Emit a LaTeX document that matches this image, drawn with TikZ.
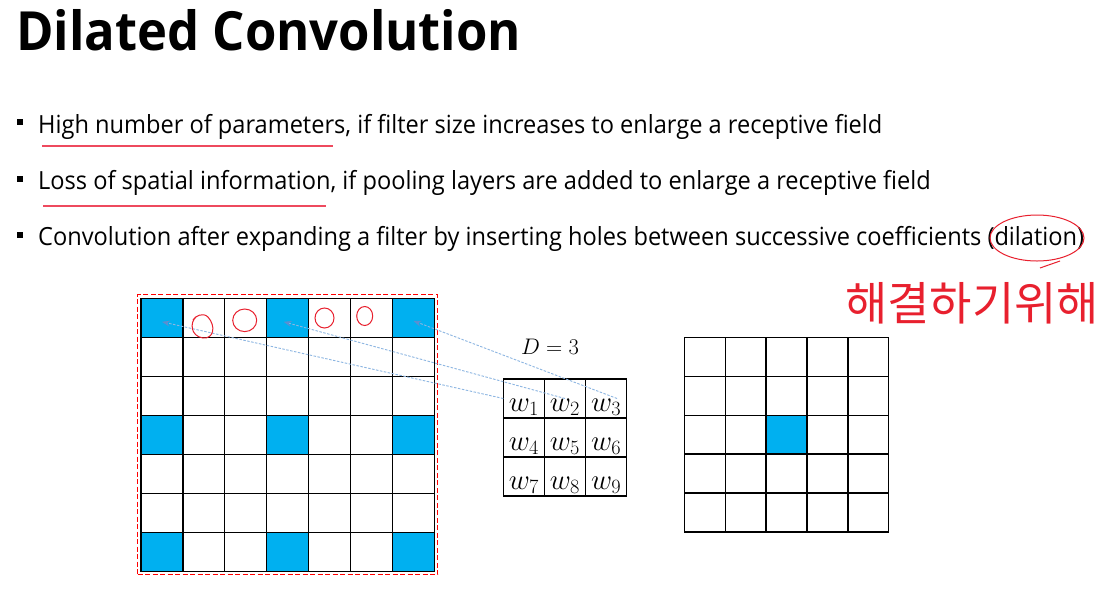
\documentclass[tikz,border=0pt]{standalone}
\usepackage{fix-cm}
\usepackage{fontspec}
\setmainfont{Open Sans}
\newfontfamily\titlef[FakeStretch=0.94]{Open Sans}
\newfontfamily\bodyf[FakeStretch=0.944]{Open Sans}
\newfontfamily\kr{Noto Sans CJK KR}
\usetikzlibrary{calc,arrows.meta,fit}
\definecolor{cyanb}{HTML}{00B0F0}
\definecolor{lineb}{HTML}{8DB6E2}
\definecolor{arrb}{HTML}{5B8FD0}
\definecolor{pen}{HTML}{E8202E}
\definecolor{penl}{HTML}{EE4A5E}
\begin{document}
\begin{tikzpicture}[x=1pt,y=-1pt,
  cell/.style={draw=black,line width=1.35pt,minimum width=41.9pt,minimum height=39pt,inner sep=0pt,outer sep=0pt},
  fcell/.style={cell,minimum width=41.1pt,text height=26pt,text depth=0pt,font=\fontsize{29}{29}\selectfont},
  rcell/.style={cell,minimum width=40.9pt,minimum height=38.94pt},
  body/.style={anchor=base west,inner sep=0pt,font=\bodyf\fontsize{25}{25}\selectfont},
  bullet/.style={fill=black,minimum size=6pt,inner sep=0pt},
  conn/.style={lineb,line width=0.9pt,dash pattern=on 2.5pt off 1.5pt,-{Stealth[length=8pt,width=6pt,color=arrb]}},
  ink/.style={pen,line width=1pt},
  underl/.style={penl,line width=1.2pt}]
\fill[white] (0,0) rectangle (1103,590);
\useasboundingbox (0,0) rectangle (1103,590);
% title
\node[anchor=base west,inner sep=0pt,font=\titlef\fontsize{54}{54}\selectfont\bfseries] (title) at (16,50) {Dilated Convolution};
% bullets
\node[bullet] (b1) at (19.7,122.3) {};
\node[bullet] (b2) at (19.7,178.7) {};
\node[bullet] (b3) at (19.7,234.7) {};
\node[body] (t1) at (38,133.3) {High number of parameters, if filter size increases to enlarge a receptive field};
\node[body] (t2) at (38,189.3) {Loss of spatial information, if pooling layers are added to enlarge a receptive field};
\node[body] (t3) at (38,245.3) {Convolution after expanding a filter by inserting holes between successive coefficients (dilation)};
% underlines
\draw[underl] (42,146) -- (333,146);
\draw[underl] (43,206) -- (326,206);
% input grid
\foreach \r in {1,...,7}{
  \foreach \c in {1,...,7}{
    \pgfmathtruncatemacro\isb{(mod(\r,3)==1)&&(mod(\c,3)==1)}
    \ifnum\isb=1 \def\fc{cyanb}\else\def\fc{white}\fi
    \node[cell,fill=\fc] (a-\r-\c) at ({141+41.9*(\c-0.5)},{298.3+39*(\r-0.5)}) {};
  }
}
\node[draw=red,line width=1.3pt,dash pattern=on 5pt off 2.5pt,inner sep=3.5pt,fit=(a-1-1)(a-7-7)] (box) {};
% filter
\foreach \r in {1,2,3}{
  \foreach \c in {1,2,3}{
    \pgfmathtruncatemacro\n{3*(\r-1)+\c}
    \node[fcell] (f-\r-\c) at ({503.3+41.1*(\c-0.5)},{379+39*(\r-0.5)}) {$w_{\n}$};
  }
}
\node[anchor=base,inner sep=0pt,font=\fontsize{22.5}{22.5}\selectfont] (dlab) at (550,354) {$D=3$};
% output grid
\foreach \r in {1,...,5}{
  \foreach \c in {1,...,5}{
    \pgfmathtruncatemacro\isb{(\r==3)&&(\c==3)}
    \ifnum\isb=1 \def\fc{cyanb}\else\def\fc{white}\fi
    \node[rcell,fill=\fc] (r-\r-\c) at ({684.3+40.9*(\c-0.5)},{337.3+38.94*(\r-0.5)}) {};
  }
}
% connectors
\draw[conn] (f-1-1.west) -- ($(a-1-1.center)+(0,4)$);
\draw[conn] (f-1-2.center) -- ($(a-1-4.center)+(-4,4)$);
\draw[conn] ($(f-1-3.center)+(11,0)$) -- ($(a-1-7.center)+(0,3)$);
% handwritten marks
\draw[ink] (196,317) .. controls (190,322) and (190,336) .. (203,338) .. controls (214,339) and (216,326) .. (208,317) .. controls (203,312) and (195,316) .. (193,320);
\draw[ink] (244.7,320.3) ellipse (12 and 11.3);
\draw[ink] (324.5,318) ellipse (9.5 and 10);
\draw[ink] (364.7,316) ellipse (8 and 9.5);
\draw[ink] (1037,238) ellipse (47 and 23);
\draw[ink] (1060,261) -- (1040,268);
\node[pen,inner sep=0pt,font=\kr\fontsize{46}{46}\selectfont] (note) at (972,303) {해결하기위해};
\end{tikzpicture}
\end{document}
